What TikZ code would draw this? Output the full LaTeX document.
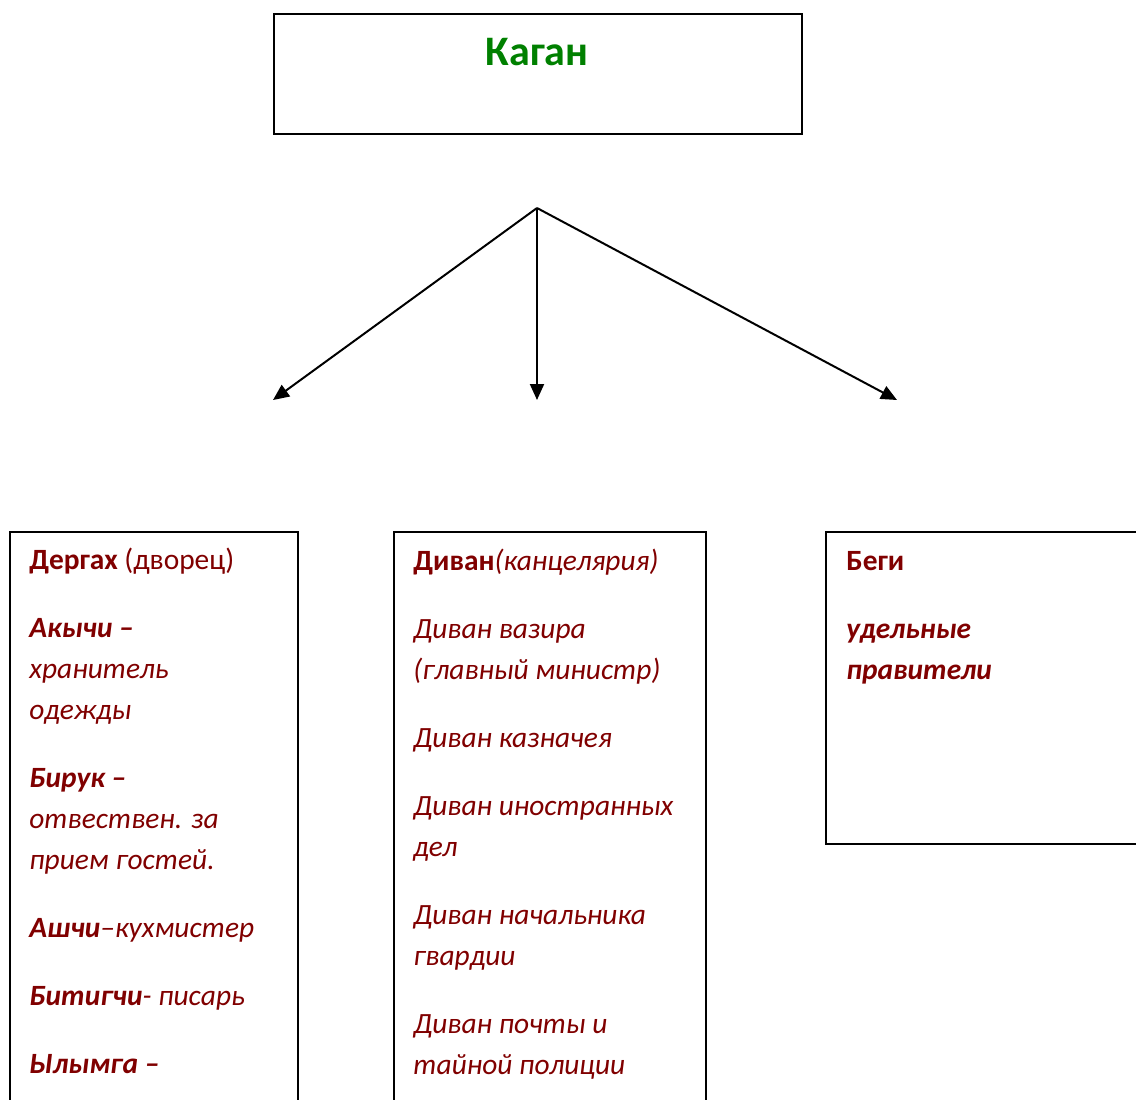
\documentclass[tikz,border=0pt]{standalone}
\usepackage{fontspec}
\setmainfont{Carlito}
\usetikzlibrary{arrows.meta}
\definecolor{kagangreen}{HTML}{008000}
\definecolor{maroon}{HTML}{800000}

\begin{document}
\begin{tikzpicture}[x=0.5pt,y=-0.5pt,
    frame/.style={draw=black,line width=1pt,inner sep=0pt,anchor=north west},
    entry/.style={anchor=base west,inner sep=0pt,align=left,text=maroon,font=\fontsize{14.7}{20.5}\selectfont},
    link/.style={-{Triangle[length=8pt,width=7pt]},line width=1pt}]
        \useasboundingbox (0,0) rectangle (1136,1099);
        \clip (0,0) rectangle (1136,1099);
        \node[frame,minimum width=264pt,minimum height=60pt] (kaganbox) at (273,13) {};
        \node[anchor=base,inner sep=0pt,text=kagangreen,font=\fontsize{21}{26}\selectfont\bfseries] (kagan) at (537,65) {Каган};
        \coordinate (fork) at (537,208);
        \coordinate (toleft) at (273,400);
        \coordinate (tomid) at (537,400);
        \coordinate (toright) at (897,400);
        \draw[link] (fork) -- (toleft);
        \draw[link] (fork) -- (tomid);
        \draw[link] (fork) -- (toright);
        \node[frame,minimum width=144pt,minimum height=300pt] (dergahbox) at (9,531) {};
        \node[frame,minimum width=156pt,minimum height=300pt] (divanbox) at (393,531) {};
        \node[frame,minimum width=170pt,minimum height=156pt] (begibox) at (825,531) {};
        \node[entry] (dergah) at (29,1073) {\textbf{Дергах} (дворец)\\[13.5pt]
            \textbf{\textit{Акычи –}}\\
            \textit{хранитель}\\
            \textit{одежды}\\[13.5pt]
            \textbf{\textit{Бирук –}}\\
            \textit{отвествен. за}\\
            \textit{прием гостей.}\\[13.5pt]
            \textbf{\textit{Ашчи}}\textit{–кухмистер}\\[13.5pt]
            \textbf{\textit{Битигчи}}\textit{- писарь}\\[13.5pt]
            \textbf{\textit{Ылымга –}}};
        \node[entry] (divan) at (413,1074) {\textbf{Диван}\textit{(канцелярия)}\\[13.5pt]
            \textit{Диван вазира}\\
            \textit{(главный министр)}\\[13.5pt]
            \textit{Диван казначея}\\[13.5pt]
            \textit{Диван иностранных}\\
            \textit{дел}\\[13.5pt]
            \textit{Диван начальника}\\
            \textit{гвардии}\\[13.5pt]
            \textit{Диван почты и}\\
            \textit{тайной полиции}};
        \node[entry] (begi) at (846,679) {\textbf{Беги}\\[13.5pt]
            \textbf{\textit{удельные}}\\
            \textbf{\textit{правители}}};
      \end{tikzpicture}
\end{document}
